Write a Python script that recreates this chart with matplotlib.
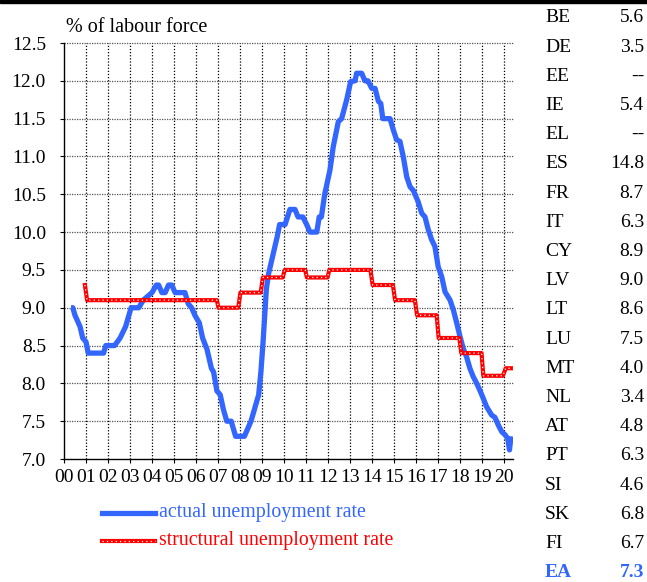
import matplotlib
matplotlib.use("Agg")
import matplotlib.pyplot as plt
from matplotlib.lines import Line2D
from matplotlib.patches import Rectangle

plt.rcParams['font.family'] = ['Liberation Serif', 'DejaVu Serif']

# actual unemployment rate
actual_x = [2000.32, 2000.4, 2000.5, 2000.73, 2000.85, 2001.0, 2001.1, 2001.8, 2001.9, 2002.3,
            2002.55, 2002.8, 2003.0, 2003.05, 2003.4, 2003.6, 2004.0, 2004.2, 2004.3, 2004.45,
            2004.6, 2004.75, 2004.9, 2005.05, 2005.5, 2005.65, 2005.8, 2005.95, 2006.15, 2006.3,
            2006.5, 2006.7, 2006.8, 2006.95, 2007.1, 2007.25, 2007.4, 2007.6, 2007.8, 2008.2,
            2008.35, 2008.5, 2008.7, 2008.85, 2008.95, 2009.05, 2009.2, 2009.3, 2009.5, 2009.7,
            2009.8, 2010.05, 2010.27, 2010.5, 2010.64, 2010.86, 2011.03, 2011.18, 2011.49, 2011.6,
            2011.7, 2011.85, 2012.09, 2012.24, 2012.47, 2012.62, 2012.85, 2013.03, 2013.23, 2013.3,
            2013.53, 2013.68, 2013.82, 2013.99, 2014.14, 2014.29, 2014.4, 2014.49, 2014.82, 2014.97,
            2015.12, 2015.27, 2015.42, 2015.58, 2015.73, 2015.88, 2016.1, 2016.26, 2016.41, 2016.56,
            2016.71, 2016.86, 2017.01, 2017.17, 2017.32, 2017.55, 2017.7, 2017.85, 2018.0, 2018.15,
            2018.3, 2018.45, 2018.6, 2018.76, 2018.9, 2019.06, 2019.21, 2019.44, 2019.59, 2019.74,
            2019.9, 2020.05, 2020.17, 2020.25, 2020.32]
actual_y = [9.0, 9.0, 8.9, 8.75, 8.6, 8.55, 8.4, 8.4, 8.5, 8.5,
            8.6, 8.75, 8.95, 9.0, 9.0, 9.1, 9.2, 9.3, 9.3, 9.2,
            9.2, 9.3, 9.3, 9.2, 9.2, 9.05, 9.0, 8.9, 8.8, 8.6,
            8.45, 8.2, 8.15, 7.9, 7.85, 7.65, 7.5, 7.5, 7.3, 7.3,
            7.4, 7.5, 7.7, 7.85, 8.15, 8.55, 9.25, 9.45, 9.7, 9.95,
            10.1, 10.1, 10.3, 10.3, 10.2, 10.2, 10.1, 10.0, 10.0, 10.2,
            10.2, 10.5, 10.82, 11.13, 11.46, 11.5, 11.75, 11.99, 12.0, 12.1,
            12.1, 12.0, 12.0, 11.9, 11.9, 11.73, 11.7, 11.5, 11.5, 11.35,
            11.22, 11.2, 11.0, 10.73, 10.6, 10.55, 10.4, 10.25, 10.2, 10.03,
            9.9, 9.81, 9.54, 9.41, 9.21, 9.1, 8.97, 8.8, 8.62, 8.46,
            8.35, 8.2, 8.09, 8.0, 7.91, 7.8, 7.69, 7.58, 7.55, 7.45,
            7.36, 7.32, 7.27, 7.12, 7.3]

# structural unemployment rate
struct_x = [2000.95, 2001.05, 2006.95, 2007.02, 2007.92, 2008.02, 2008.94, 2009.04, 2009.94, 2010.04,
            2010.96, 2011.04, 2011.98, 2012.06, 2013.93, 2014.03, 2014.95, 2015.05, 2015.95, 2016.05,
            2016.94, 2017.03, 2017.97, 2018.06, 2018.98, 2019.06, 2019.95, 2020.08, 2020.42]
struct_y = [9.3, 9.1, 9.1, 9.0, 9.0, 9.2, 9.2, 9.4, 9.4, 9.5,
            9.5, 9.4, 9.4, 9.5, 9.5, 9.3, 9.3, 9.1, 9.1, 8.9,
            8.9, 8.6, 8.6, 8.4, 8.4, 8.1, 8.1, 8.2, 8.2]

years = list(range(2000, 2021))
year_labels = ['%02d' % (y - 2000) for y in years]
y_ticks = [7.0, 7.5, 8.0, 8.5, 9.0, 9.5, 10.0, 10.5, 11.0, 11.5, 12.0, 12.5]

countries = ['BE', 'DE', 'EE', 'IE', 'EL', 'ES', 'FR', 'IT', 'CY', 'LV',
             'LT', 'LU', 'MT', 'NL', 'AT', 'PT', 'SI', 'SK', 'FI', 'EA']
country_vals = ['5.6', '3.5', '--', '5.4', '--', '14.8', '8.7', '6.3', '8.9', '9.0',
                '8.6', '7.5', '4.0', '3.4', '4.8', '6.3', '4.6', '6.8', '6.7', '7.3']

blue = '#3366ff'
red = '#ff0000'
W, H = 647, 582
fs = 14

fig = plt.figure(figsize=(W / 100, H / 100), dpi=100)
ax = fig.add_axes([64 / W, 1 - 459 / H, (513 - 64) / W, (459 - 43) / H])

ax.set_xlim(2000, 2020.41)
ax.set_ylim(7.0, 12.5)

# grid
for y in y_ticks[1:]:
    ax.axhline(y, color='#555555', lw=0.9, ls=(0, (1, 1)), clip_on=False, zorder=1)
for x in years[1:]:
    ax.axvline(x, color='black', lw=0.9, ls=(0, (1, 1.5)), zorder=1)

ax.plot(actual_x, actual_y, color=blue, lw=3.8, solid_capstyle='butt', zorder=3)
ax.plot(struct_x, struct_y, color=red, lw=3.0, zorder=4)
ax.plot(struct_x, struct_y, color='white', lw=0.9, ls=(0, (1, 2.5)), zorder=5)

ax.set_xticks(years)
ax.set_xticklabels(year_labels)
ax.set_yticks(y_ticks)
ax.set_yticklabels(['%.1f' % v for v in y_ticks])
ax.tick_params(axis='x', length=3, width=0.8, pad=4, labelsize=fs)
ax.tick_params(axis='y', length=3, width=0.8, pad=10, labelsize=fs)
for s in ['top', 'right']:
    ax.spines[s].set_visible(False)
for s in ['left', 'bottom']:
    ax.spines[s].set_linewidth(1.0)

fig.text(66 / W, 1 - 28 / H, '% of labour force', fontsize=14.5, va='center', ha='left')

# legend drawn by hand
fig.add_artist(Line2D([102 / W, 155 / W], [1 - 513 / H] * 2, color=blue, lw=3.8))
fig.text(159 / W, 1 - 513 / H, 'actual unemployment rate', color=blue, fontsize=14.3, va='center')
fig.add_artist(Line2D([102 / W, 155 / W], [1 - 541 / H] * 2, color=red, lw=3.0))
fig.add_artist(Line2D([102 / W, 155 / W], [1 - 541 / H] * 2, color='white', lw=0.9, ls=(0, (1, 2.5))))
fig.text(159 / W, 1 - 541 / H, 'structural unemployment rate', color=red, fontsize=14.3, va='center')

# country table on the right
for i, (c, v) in enumerate(zip(countries, country_vals)):
    yy = 1 - (18 + i * 29.2) / H
    if c == 'EA':
        fig.text(545 / W, yy, c, color=blue, fontsize=fs, fontweight='bold', va='center')
        fig.text(644 / W, yy, v, color=blue, fontsize=fs, fontweight='bold', va='center', ha='right')
    else:
        fig.text(545 / W, yy, c, fontsize=fs, va='center')
        fig.text(644 / W, yy, v, fontsize=fs, va='center', ha='right')

# black bar at the top
fig.add_artist(Rectangle((0, 1 - 3 / H), 1, 3 / H, transform=fig.transFigure, color='black'))

fig.savefig('out.png', dpi=100)
